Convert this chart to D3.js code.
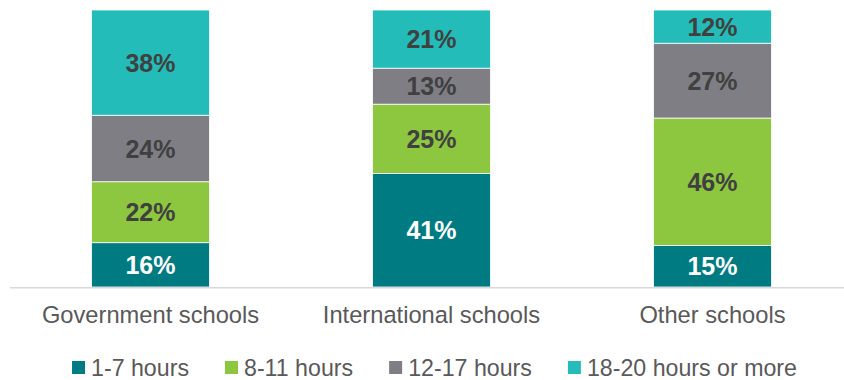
<!DOCTYPE html>
<html>
<head>
<meta charset="utf-8">
<script src="https://cdn.jsdelivr.net/npm/d3@7"></script>
<style>
  html, body { margin: 0; padding: 0; background: #fff; }
  svg { display: block; font-family: Arial, "Liberation Sans", sans-serif; }
</style>
</head>
<body>
<svg id="chart" width="844" height="380"></svg>
<script>
// School types along the x axis
const categories = ["Government schools", "International schools", "Other schools"];
// Hour bands, stacked bottom to top
const seriesNames = ["1-7 hours", "8-11 hours", "12-17 hours", "18-20 hours or more"];
// Share of respondents (%) per hour band, one entry per school type
const hours1to7   = [16, 41, 15];
const hours8to11  = [22, 25, 46];
const hours12to17 = [24, 13, 27];
const hours18plus = [38, 21, 12];
const seriesColors = ["#007B82", "#8DC63F", "#7F7E84", "#23BCB8"];
const labelColors  = ["#ffffff", "#404040", "#404040", "#404040"];

const seriesValues = [hours1to7, hours8to11, hours12to17, hours18plus];
const rows = categories.map((c, i) => {
  const r = { category: c };
  seriesNames.forEach((s, k) => { r[s] = seriesValues[k][i]; });
  return r;
});

const svg = d3.select("#chart");
const plotLeft = 10, plotRight = 853, plotTop = 10, plotBottom = 287;

const x = d3.scaleBand()
  .domain(categories)
  .range([plotLeft, plotRight])
  .paddingInner(0.58)
  .paddingOuter(0.29);

const y = d3.scaleLinear().domain([0, 100]).range([plotBottom, plotTop]);

const stacked = d3.stack().keys(seriesNames)(rows);

const layers = svg.append("g").selectAll("g")
  .data(stacked)
  .join("g")
  .attr("fill", (d, i) => seriesColors[i]);

layers.selectAll("rect")
  .data(d => d)
  .join("rect")
  .attr("x", d => x(d.data.category))
  .attr("width", x.bandwidth())
  .attr("y", d => y(d[1]))
  .attr("height", d => y(d[0]) - y(d[1]))
  .attr("stroke", "#ffffff")
  .attr("stroke-width", 0.8);

// Value labels in the middle of each segment
layers.selectAll("text")
  .data((d, i) => d.map(v => ({ v, i, key: d.key })))
  .join("text")
  .attr("x", d => x(d.v.data.category) + x.bandwidth() / 2)
  .attr("y", d => (y(d.v[0]) + y(d.v[1])) / 2)
  .attr("dy", "0.36em")
  .attr("text-anchor", "middle")
  .attr("font-size", 25)
  .attr("font-weight", "bold")
  .attr("fill", d => labelColors[d.i])
  .text(d => (d.v[1] - d.v[0]) + "%");

// Baseline
svg.append("line")
  .attr("x1", plotLeft).attr("x2", plotRight)
  .attr("y1", plotBottom + 0.8).attr("y2", plotBottom + 0.8)
  .attr("stroke", "#d9d9d9")
  .attr("stroke-width", 1.6);

// Category axis labels
const xAxis = d3.axisBottom(x).tickSize(0).tickPadding(0);
const axisG = svg.append("g")
  .attr("transform", `translate(0,${plotBottom})`)
  .call(xAxis);
axisG.select(".domain").remove();
axisG.selectAll("text")
  .attr("dy", null)
  .attr("y", 36)
  .attr("font-size", 23.7)
  .attr("font-family", "Arial, 'Liberation Sans', sans-serif")
  .attr("fill", "#595959");

// Legend, centred under the chart
const legend = svg.append("g");
const items = legend.selectAll("g")
  .data(seriesNames)
  .join("g");
items.append("rect")
  .attr("width", 13).attr("height", 13)
  .attr("y", -15)
  .attr("fill", (d, i) => seriesColors[i]);
items.append("text")
  .attr("x", 19)
  .attr("font-size", 23.2)
  .attr("fill", "#595959")
  .text(d => d);

let cursor = 0;
items.each(function () {
  const g = d3.select(this);
  g.attr("transform", `translate(${cursor},0)`);
  cursor += 19 + g.select("text").node().getComputedTextLength() + 36;
});
const legendWidth = cursor - 36;
legend.attr("transform", `translate(${434.5 - legendWidth / 2},376)`);
</script>
</body>
</html>
